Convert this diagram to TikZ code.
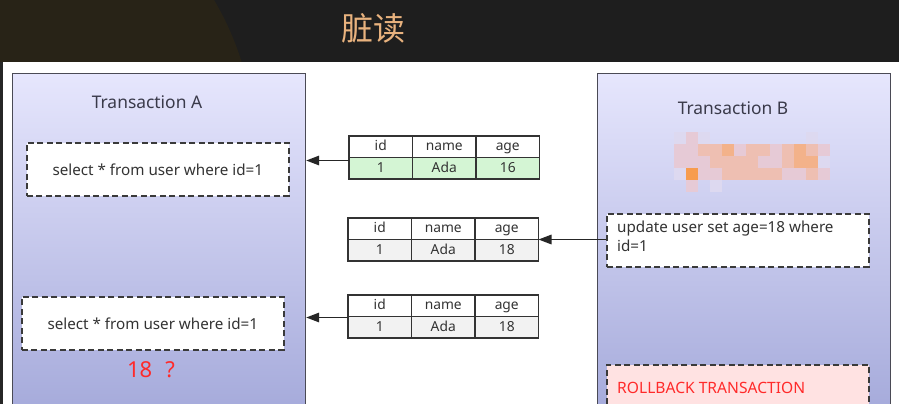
\documentclass[tikz,border=0pt]{standalone}
\usepackage{fontspec}
\setmainfont{Noto Sans}
\newfontfamily\cjk{Noto Sans CJK SC}
\usetikzlibrary{arrows.meta}
\definecolor{barbg}{HTML}{1E1E1E}
\definecolor{bargold}{HTML}{282317}
\definecolor{titlecol}{HTML}{E8B27E}
\definecolor{ptop}{HTML}{E6E6FD}
\definecolor{pbot}{HTML}{A4A9DA}
\definecolor{pborder}{HTML}{4A4A55}
\definecolor{dashcol}{HTML}{3A3A3A}
\definecolor{txt}{HTML}{333333}
\definecolor{ttl}{HTML}{3A3A4A}
\definecolor{greenrow}{HTML}{D4F5D4}
\definecolor{grayrow}{HTML}{F2F2F2}
\definecolor{redtxt}{HTML}{FF2A2A}
\definecolor{pinkfill}{HTML}{FFE2E2}
\definecolor{mA}{HTML}{DDD9F0}
\definecolor{mB}{HTML}{E6CAD6}
\definecolor{mC}{HTML}{EEBFB2}
\definecolor{mD}{HTML}{F3B28A}
\definecolor{mE}{HTML}{F79C4E}
\tikzset{
  panel/.style={draw=pborder, line width=1.2pt, top color=ptop, bottom color=pbot,
    minimum width=293, minimum height=345, anchor=north west, inner sep=0},
  qbox/.style={draw=dashcol, line width=1.6pt, dash pattern=on 6pt off 3.5pt,
    fill=white, minimum width=262, minimum height=53, anchor=north west, inner sep=0},
  cell/.style={draw=black!80, line width=1.3pt, minimum width=63.5, minimum height=21.5,
    inner sep=0, outer sep=0, anchor=north west, text=txt, font=\fontsize{13.8}{14}\selectfont,
    text height=10pt, text depth=2.5pt},
  arr/.style={draw=black!85, line width=1.5pt, -{Triangle[length=13pt,width=9.5pt]}},
  bodytext/.style={text=txt, font=\fontsize{15.2}{19}\selectfont, inner sep=0},
  ptitle/.style={text=ttl, font=\fontsize{17.4}{18}\selectfont, inner sep=0}
}
\newcommand{\dbtab}[5]{%
  \node[cell] (#1h1) at (#2,#3) {id};
  \node[cell] (#1h2) at (#1h1.north east) {name};
  \node[cell] (#1h3) at (#1h2.north east) {age};
  \node[cell,fill=#4] (#1d1) at (#1h1.south west) {1};
  \node[cell,fill=#4] (#1d2) at (#1d1.north east) {Ada};
  \node[cell,fill=#4] (#1d3) at (#1d2.north east) {#5};
}
\begin{document}
\begin{tikzpicture}[x=1pt,y=-1pt]
\useasboundingbox (0,0) rectangle (899,404);
\clip (0,0) rectangle (899,404);
% top bar
\fill[barbg] (0,0) rectangle (899,62);
\begin{scope}
  \clip (0,0) rectangle (899,62);
  \fill[bargold] (-40,150) circle[radius=295];
\end{scope}
\node[text=titlecol, font=\cjk\fontsize{32}{32}\selectfont, inner sep=0] (title) at (373,28) {脏读};
% white area
\fill[white] (0,62) rectangle (899,404);
\fill[black!85] (0,62) rectangle (3,404);
% panels
\node[panel] (A) at (12,73) {};
\node[panel] (B) at (597,73) {};
\node[ptitle] (tA) at (147,102) {Transaction A};
\node[ptitle] (tB) at (733,108) {Transaction B};
% mosaic
\foreach \c [count=\i from 0] in {mA,mB,mA} {\fill[\c] (674+12*\i,132) rectangle ++(12,12);}
\fill[mA] (806,132) rectangle ++(12,12);
\foreach \c [count=\i from 0] in {mB,mB,mC,mC,mD,mB,mC,mC,mB,mC,mD,mC,mB} {\fill[\c] (674+12*\i,144) rectangle ++(12,12);}
\foreach \c [count=\i from 0] in {mB,mB,mB,mC,mC,mC,mC,mB,mB,mC,mD,mD,mA} {\fill[\c] (674+12*\i,156) rectangle ++(12,12);}
\foreach \c [count=\i from 0] in {mA,mE,mB,mB,mC,mC,mC,mC,mC,mB,mB,mC,mB} {\fill[\c] (674+12*\i,168) rectangle ++(12,12);}
\fill[mB] (686,180) rectangle ++(12,12);
\fill[mA] (710,180) rectangle ++(12,12);
% query boxes
\node[qbox] (q1) at (26,142) {};
\node[bodytext] (q1t) at (q1.center) {select * from user where id=1};
\node[qbox] (q2) at (21,296) {};
\node[bodytext] (q2t) at (q2.center) {select * from user where id=1};
\node[text=redtxt, font=\fontsize{22}{22}\selectfont, inner sep=0] (res) at (151,370) {18\hspace{13pt}?};
\node[qbox] (U) at (606,213) {};
\node[bodytext, anchor=north west, align=left] (Ut) at (617,221) {update user set age=18 where\\id=1};
\node[qbox, fill=pinkfill, minimum height=60] (R) at (606,364) {};
\node[bodytext, text=redtxt, anchor=west, font=\fontsize{15.6}{19}\selectfont] (Rt) at (617,388) {ROLLBACK TRANSACTION};
% tables
\dbtab{t1}{349}{136}{greenrow}{16}
\dbtab{t2}{348}{218}{grayrow}{18}
\dbtab{t3}{348}{295}{grayrow}{18}
% arrows
\draw[arr] ([yshift=-3pt]t1h1.south west) -- ([yshift=-3pt]t1h1.south west -| A.east);
\draw[arr] (t2h3.south east -| U.west) -- (t2h3.south east);
\draw[arr] ([yshift=-1pt]t3h1.south west) -- ([yshift=-1pt]t3h1.south west -| A.east);
\end{tikzpicture}
\end{document}
